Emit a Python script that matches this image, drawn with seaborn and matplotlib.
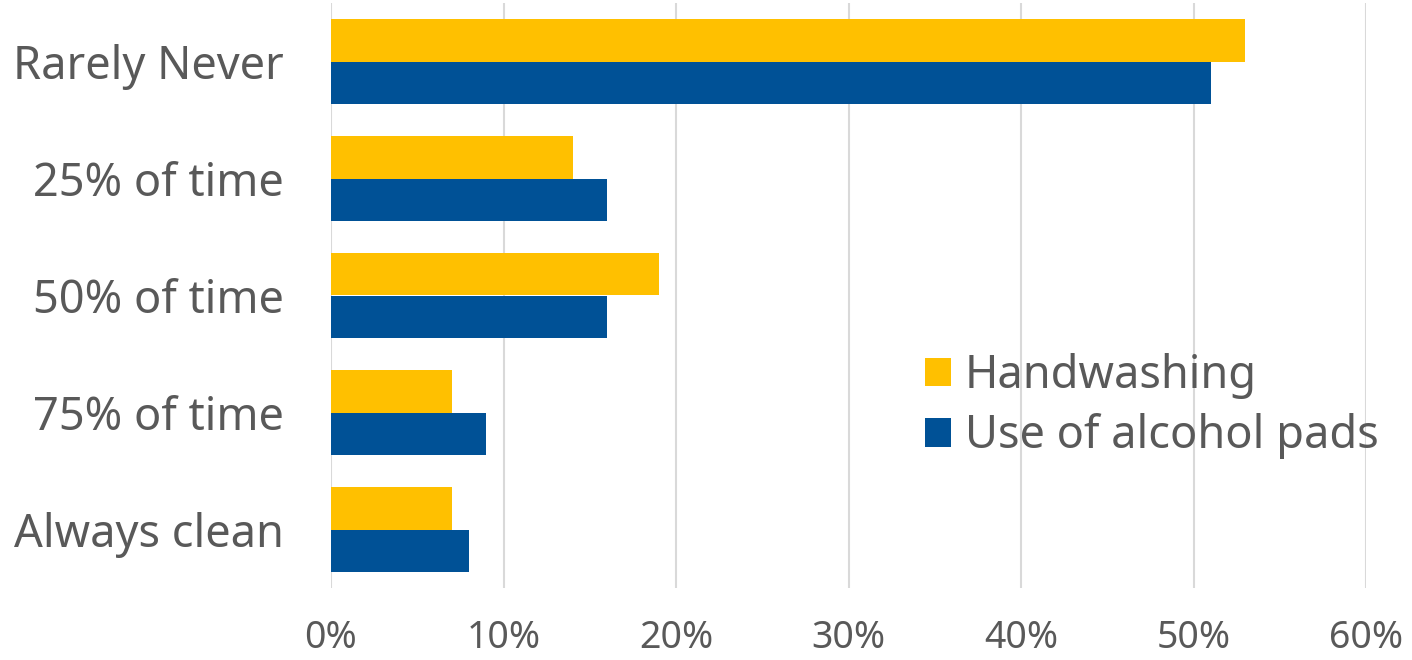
import matplotlib
matplotlib.use("Agg")
import matplotlib.pyplot as plt
import seaborn as sns
import pandas as pd
from matplotlib.patches import Patch
from matplotlib.ticker import PercentFormatter

categories = ["Rarely Never", "25% of time", "50% of time", "75% of time", "Always clean"]
series_names = ["Handwashing", "Use of alcohol pads"]
handwashing = [0.53, 0.14, 0.19, 0.07, 0.07]
alcohol_pads = [0.51, 0.16, 0.16, 0.09, 0.08]
x_ticks = [0.0, 0.1, 0.2, 0.3, 0.4, 0.5, 0.6]

colors = ["#FFC000", "#005196"]
text_color = "#595959"
grid_color = "#D9D9D9"

df = pd.DataFrame({
    "category": categories * 2,
    "series": [series_names[0]] * len(categories) + [series_names[1]] * len(categories),
    "value": handwashing + alcohol_pads,
})

sns.set_theme(style="white")
plt.rcParams["font.family"] = ["Noto Sans", "DejaVu Sans"]

fig = plt.figure(figsize=(14.12, 6.6), dpi=100)
ax = fig.add_axes([331 / 1412, 1 - 588 / 660, (1366 - 331) / 1412, (588 - 3) / 660])

sns.barplot(data=df, y="category", x="value", hue="series", order=categories,
            hue_order=series_names, palette=colors, orient="h", width=0.735,
            saturation=1, linewidth=0, ax=ax, legend=False)

ax.set_xlim(0, 0.6)
ax.set_xticks(x_ticks)
ax.xaxis.set_major_formatter(PercentFormatter(1.0, decimals=0))
ax.set_xlabel("")
ax.set_ylabel("")
ax.grid(axis="x", color=grid_color, linewidth=1.5)
ax.set_axisbelow(True)
for s in ax.spines.values():
    s.set_visible(False)
ax.tick_params(axis="x", length=0, pad=22, labelsize=27, labelcolor=text_color)
ax.tick_params(axis="y", length=0, pad=34, labelsize=32.5, labelcolor=text_color)
for lbl in ax.get_yticklabels():
    lbl.set_y(lbl.get_position()[1])

handles = [Patch(facecolor=c, edgecolor="none") for c in colors]
leg = fig.legend(handles, series_names, loc="center left",
                 bbox_to_anchor=(925 / 1412, 1 - 406 / 660), frameon=False,
                 fontsize=32.5, handlelength=0.58, handleheight=0.58,
                 handletextpad=0.3, labelspacing=0.33, borderpad=0, borderaxespad=0)
for t in leg.get_texts():
    t.set_color(text_color)

fig.savefig("out.png", dpi=100)
